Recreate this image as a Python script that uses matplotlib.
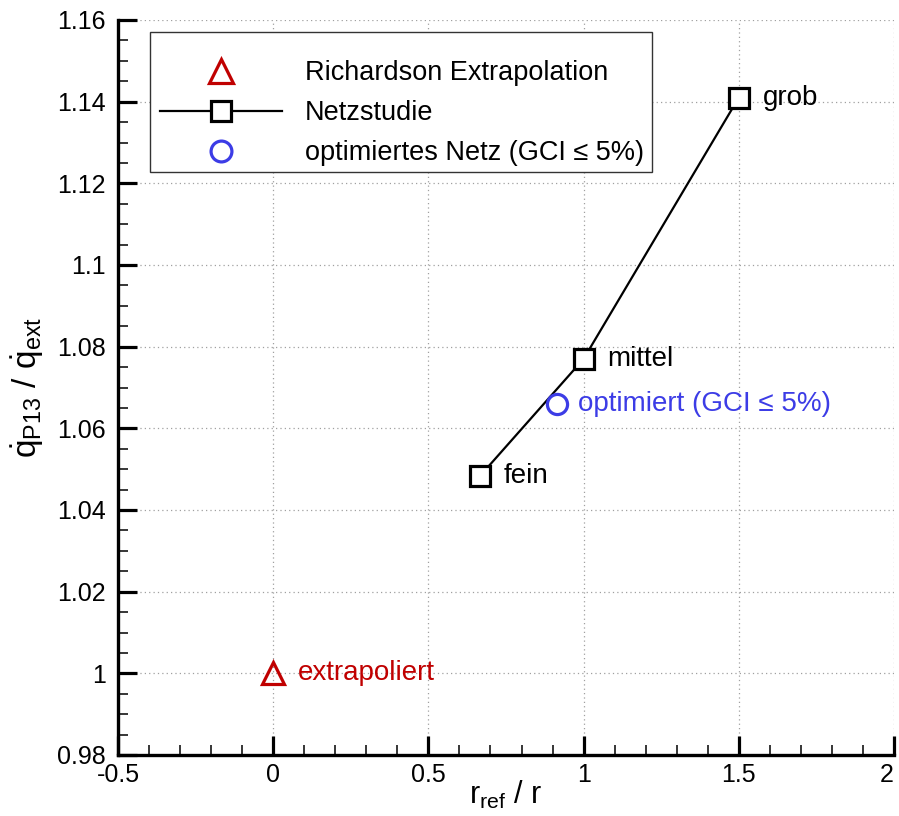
import matplotlib
matplotlib.use("Agg")
import matplotlib.pyplot as plt
from matplotlib.ticker import MultipleLocator, FuncFormatter
from matplotlib.lines import Line2D
from matplotlib.patches import Rectangle

plt.rcParams['font.family'] = ['Liberation Sans', 'DejaVu Sans']
plt.rcParams['mathtext.fontset'] = 'custom'
plt.rcParams['mathtext.rm'] = 'Liberation Sans'
plt.rcParams['mathtext.it'] = 'Liberation Sans'

# Data
study_x = [0.667, 1.0, 1.5]
study_y = [1.0484, 1.077, 1.141]
study_labels = ['fein', 'mittel', 'grob']
extrap_x = [0.0]
extrap_y = [1.0]
extrap_label = 'extrapoliert'
opt_x = [0.914]
opt_y = [1.066]
opt_label = 'optimiert (GCI ≤ 5%)'
legend_labels = ['Richardson Extrapolation', 'Netzstudie', 'optimiertes Netz (GCI ≤ 5%)']
x_limits = (-0.5, 2.0)
y_limits = (0.98, 1.16)

red = '#c00000'
blue = '#3c3ce6'

W, H = 899, 816
fig = plt.figure(figsize=(W / 100, H / 100), dpi=100)
ax = fig.add_axes([118 / W, 1 - 755 / H, (894 - 118) / W, (755 - 20) / H])

ax.plot(study_x, study_y, color='black', lw=1.6, marker='s', ms=14.5,
        mfc='white', mec='black', mew=2.3, zorder=4)
ax.plot(extrap_x, extrap_y, ls='none', marker='^', ms=16, mfc='none',
        mec=red, mew=2.3, zorder=4)
ax.plot(opt_x, opt_y, ls='none', marker='o', ms=14.5, mfc='none',
        mec=blue, mew=2.3, zorder=4)

fs_txt = 20
for x, y, t in zip(study_x, study_y, study_labels):
    ax.annotate(t, (x, y), xytext=(17, 0), textcoords='offset points',
                va='center', ha='left', fontsize=fs_txt, color='black')
for x, y in zip(extrap_x, extrap_y):
    ax.annotate(extrap_label, (x, y), xytext=(18, 0), textcoords='offset points',
                va='center', ha='left', fontsize=fs_txt, color=red)
for x, y in zip(opt_x, opt_y):
    ax.annotate(opt_label, (x, y), xytext=(15, 0), textcoords='offset points',
                va='center', ha='left', fontsize=fs_txt, color=blue)

ax.set_xlim(*x_limits)
ax.set_ylim(*y_limits)
ax.xaxis.set_major_locator(MultipleLocator(0.5))
ax.xaxis.set_minor_locator(MultipleLocator(0.1))
ax.yaxis.set_major_locator(MultipleLocator(0.02))
ax.yaxis.set_minor_locator(MultipleLocator(0.005))

def fmt(v, _):
    s = f'{v:.2f}'.rstrip('0').rstrip('.')
    if s == '-0':
        s = '0'
    return s

def fmt_x(v, pos):
    # the last label is drawn separately so it stays inside the figure
    if abs(v - x_limits[1]) < 1e-9:
        return ''
    return fmt(v, pos)

ax.xaxis.set_major_formatter(FuncFormatter(fmt_x))
ax.yaxis.set_major_formatter(FuncFormatter(fmt))

ax.annotate(fmt(x_limits[1], None), xy=(x_limits[1], y_limits[0]), xytext=(-5, -6),
            textcoords='offset points', ha='center', va='top', fontsize=18,
            annotation_clip=False)

ax.tick_params(which='major', direction='in', length=14, width=2.3, labelsize=18)
ax.tick_params(axis='y', which='major', pad=9)
ax.tick_params(axis='x', which='major', pad=6)
ax.tick_params(which='minor', direction='in', length=7, width=1.1)
ax.spines['top'].set_visible(False)
ax.spines['right'].set_visible(False)
ax.spines['left'].set_linewidth(2.4)
ax.spines['bottom'].set_linewidth(2.4)

ax.grid(True, which='major', ls=(0, (1, 2.5)), color='#a0a0a0', lw=0.9)

ax.set_xlabel(r'$\mathrm{r}_{\mathrm{ref}}\ /\ \mathrm{r}$', fontsize=22, labelpad=-6)
ax.set_ylabel(r'$\dot{\mathrm{q}}_{\mathrm{P13}}\ /\ \dot{\mathrm{q}}_{\mathrm{ext}}$', fontsize=24, labelpad=8)

# legend frame
fig.patches.append(Rectangle((150 / W, 1 - 172 / H), 502 / W, 140 / H,
                             transform=fig.transFigure, facecolor='white',
                             edgecolor='#333333', lw=1.0, zorder=3))

handles = [
    Line2D([], [], ls='none', marker='^', ms=17, mfc='none', mec=red, mew=2.3),
    Line2D([], [], color='black', lw=1.6, marker='s', ms=15, mfc='white', mec='black', mew=2.3),
    Line2D([], [], ls='none', marker='o', ms=15, mfc='none', mec=blue, mew=2.3),
]
leg = fig.legend(handles, legend_labels, loc='upper left',
                 bbox_to_anchor=(160 / W, 1 - 60 / H), bbox_transform=fig.transFigure,
                 fontsize=19.5, frameon=False, handlelength=4.5, handletextpad=0.85,
                 borderpad=0, borderaxespad=0, labelspacing=0.52)
leg.set_zorder(6)
ax.set_zorder(1)
ax.patch.set_visible(False)

fig.savefig('out.png', dpi=100)
